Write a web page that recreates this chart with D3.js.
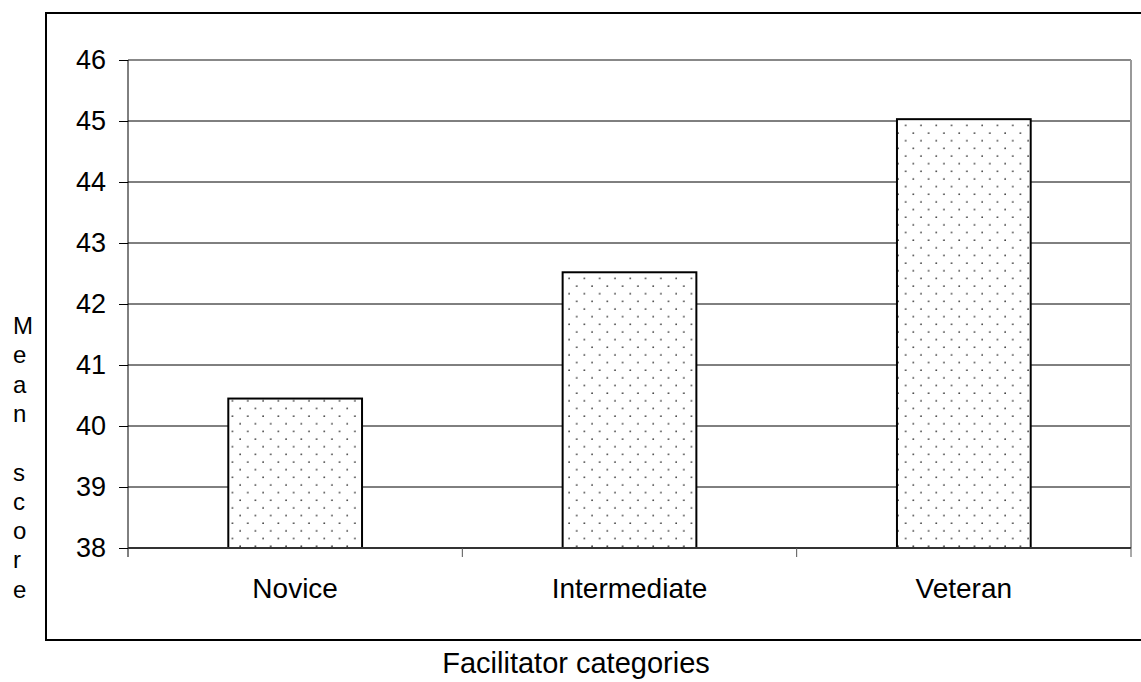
<!DOCTYPE html>
<html>
<head>
<meta charset="utf-8">
<script src="https://cdn.jsdelivr.net/npm/d3@7"></script>
<style>
  body { margin: 0; background: #fff; }
  text { font-family: "Liberation Sans", Arial, sans-serif; fill: #000; }
</style>
</head>
<body>
<div id="chart"></div>
<script>
const categories = ["Novice", "Intermediate", "Veteran"];
const meanScores = [40.45, 42.52, 45.03];
const yTicks = [38, 39, 40, 41, 42, 43, 44, 45, 46];
const yLabelLetters = ["M", "e", "a", "n", "", "s", "c", "o", "r", "e"];

const width = 1141, height = 682;
const margin = { top: 60, right: 10, bottom: 134, left: 128 };

const svg = d3.select("#chart").append("svg")
  .attr("width", width)
  .attr("height", height);

// dotted fill like the old spreadsheet pattern
const defs = svg.append("defs");
const pat = defs.append("pattern")
  .attr("id", "dots")
  .attr("patternUnits", "userSpaceOnUse")
  .attr("width", 15.3)
  .attr("height", 15.3);
pat.append("rect").attr("width", 15.3).attr("height", 15.3).attr("fill", "#fff");
pat.append("circle").attr("cx", 3).attr("cy", 3).attr("r", 0.85).attr("fill", "#333");
pat.append("circle").attr("cx", 10.65).attr("cy", 10.65).attr("r", 0.85).attr("fill", "#333");

// outer frame
svg.append("rect")
  .attr("x", 46).attr("y", 13)
  .attr("width", width).attr("height", 627)
  .attr("fill", "none")
  .attr("stroke", "#000")
  .attr("stroke-width", 2);

const x = d3.scaleBand()
  .domain(categories)
  .range([margin.left, width - margin.right])
  .paddingInner(0)
  .paddingOuter(0);

const y = d3.scaleLinear()
  .domain([38, 46])
  .range([height - margin.bottom, margin.top]);

// gridlines
svg.append("g")
  .selectAll("line")
  .data(yTicks.slice(1))
  .join("line")
  .attr("x1", margin.left).attr("x2", width - margin.right)
  .attr("y1", d => y(d)).attr("y2", d => y(d))
  .attr("stroke", d => d === 46 ? "#888" : "#000")
  .attr("stroke-width", d => d === 46 ? 2 : 1);

// right edge of plot area
svg.append("line")
  .attr("x1", width - margin.right).attr("x2", width - margin.right)
  .attr("y1", margin.top).attr("y2", y(38))
  .attr("stroke", "#999").attr("stroke-width", 2);

// bars
const barW = x.bandwidth() * 0.4;
svg.append("g")
  .selectAll("rect")
  .data(categories)
  .join("rect")
  .attr("x", d => x(d) + (x.bandwidth() - barW) / 2)
  .attr("y", (d, i) => y(meanScores[i]))
  .attr("width", barW)
  .attr("height", (d, i) => y(38) - y(meanScores[i]))
  .attr("fill", "url(#dots)")
  .attr("stroke", "#000")
  .attr("stroke-width", 2);

// y axis
const yAxis = d3.axisLeft(y)
  .tickValues(yTicks)
  .tickSize(9)
  .tickPadding(13)
  .tickFormat(d3.format("d"));

const gy = svg.append("g")
  .attr("transform", `translate(${margin.left},0)`)
  .call(yAxis);
gy.select(".domain").remove();
gy.append("line")
  .attr("x1", 0).attr("x2", 0)
  .attr("y1", margin.top).attr("y2", y(38) + 9)
  .attr("stroke", "#000");
gy.selectAll("text")
  .style("font-size", "27px")
  .attr("font-family", null);

// x axis (ticks at category boundaries)
const xg = svg.append("g");
xg.append("line")
  .attr("x1", margin.left).attr("x2", width - margin.right)
  .attr("y1", y(38)).attr("y2", y(38))
  .attr("stroke", "#333").attr("stroke-width", 2);
xg.selectAll(".tick")
  .data(categories.slice(1).concat(["end"]))
  .join("line")
  .attr("x1", d => d === "end" ? width - margin.right : x(d))
  .attr("x2", d => d === "end" ? width - margin.right : x(d))
  .attr("y1", y(38)).attr("y2", y(38) + 9)
  .attr("stroke", "#555");
xg.selectAll("text")
  .data(categories)
  .join("text")
  .attr("x", d => x(d) + x.bandwidth() / 2)
  .attr("y", y(38) + 50)
  .attr("text-anchor", "middle")
  .style("font-size", "28px")
  .text(d => d);

// axis titles
svg.append("text")
  .attr("x", 576)
  .attr("y", 673)
  .attr("text-anchor", "middle")
  .style("font-size", "29px")
  .text("Facilitator categories");

svg.append("g")
  .selectAll("text")
  .data(yLabelLetters)
  .join("text")
  .attr("x", 13)
  .attr("y", (d, i) => 334 + i * 29.3)
  .attr("text-anchor", "start")
  .style("font-size", "24px")
  .text(d => d);
</script>
</body>
</html>
